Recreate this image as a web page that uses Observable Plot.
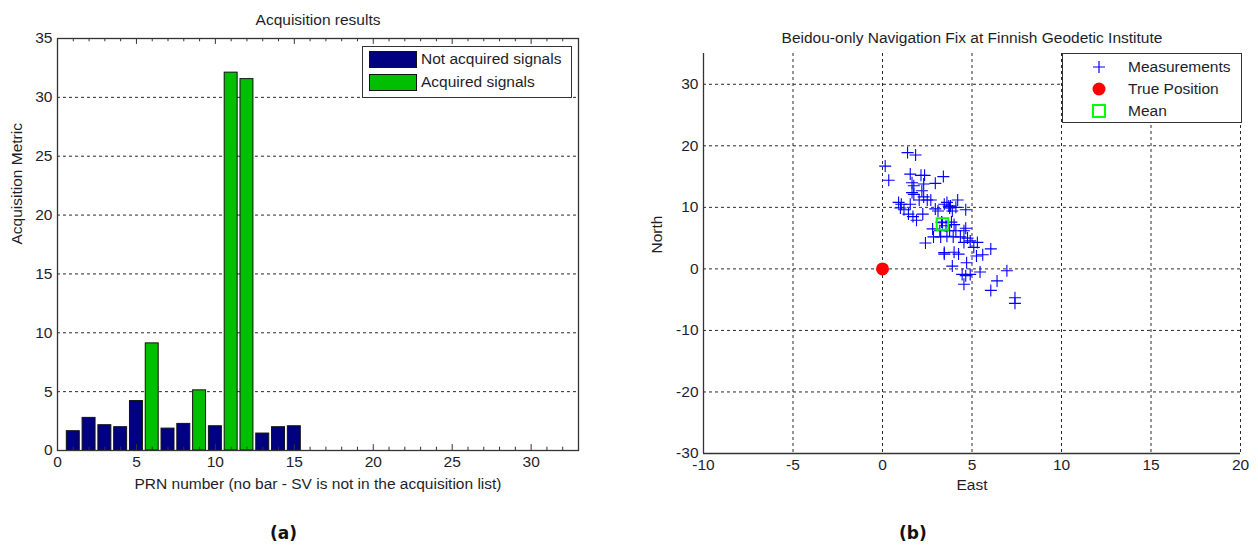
<!DOCTYPE html>
<html>
<head>
<meta charset="utf-8">
<script src="https://cdn.jsdelivr.net/npm/d3@7"></script>
<script src="https://cdn.jsdelivr.net/npm/@observablehq/plot@0.6"></script>
<style>
  html, body { margin: 0; padding: 0; background: #fff; }
  #page { position: relative; width: 1258px; height: 548px; overflow: hidden; background: #fff;
          font-family: "Liberation Sans", Arial, sans-serif; color: #1e1e2a; }
  .abs { position: absolute; }
  .legend { position: absolute; background: #fff; border: 1px solid #333; box-sizing: border-box; font-size: 15.5px; }
  .lab { position: absolute; font-family: "DejaVu Sans", Verdana, sans-serif; font-weight: bold; font-size: 17px; color: #111; }
</style>
</head>
<body>
<div id="page">
  <div id="left" class="abs" style="left:0;top:0"></div>
  <div id="right" class="abs" style="left:640px;top:0"></div>
  <div class="lab" style="left:270px;top:523px">(a)</div>
  <div class="lab" style="left:899px;top:523px">(b)</div>
</div>
<script>
// ---------- Panel (a) data ----------
const prnNumbers = [1, 2, 3, 4, 5, 6, 7, 8, 9, 10, 11, 12, 13, 14, 15];
const acquisitionMetric = [1.64, 2.77, 2.15, 1.98, 4.2, 9.1, 1.86, 2.26, 5.11, 2.06, 32.1, 31.55, 1.44, 1.98, 2.06];
const acquiredFlag = [0, 0, 0, 0, 0, 1, 0, 0, 1, 0, 1, 1, 0, 0, 0];
const legendA = ["Not acquired signals", "Acquired signals"];

// ---------- Panel (b) data ----------
const measEast = [1.4, 1.85, 0.15, 0.35, 1.55, 2.15, 2.35, 3.4, 1.65, 1.75, 2.3, 2.95, 1.65, 1.75, 2.2, 2.3,
  2.05, 2.5, 2.7, 4.2, 0.9, 1.05, 1.55, 3.6, 3.7, 1.0, 1.2, 2.95, 3.1, 3.75, 3.9, 4.65, 1.45, 1.7, 2.25,
  1.9, 3.3, 3.85, 4.0, 2.8, 4.65, 4.55, 3.2, 3.75, 4.1, 2.85, 3.25, 3.6, 3.95, 4.35, 4.75, 2.4, 5.3, 4.55,
  4.9, 3.45, 4.0, 4.25, 6.05, 5.6, 5.25, 4.7, 3.9, 4.45, 4.65, 4.9, 5.45, 4.55, 6.95, 6.4, 6.05, 7.4, 7.4,
  3.45, 3.8, 4.1, 3.35, 3.55, 5.1, 3.45];
const measNorth = [18.9, 18.5, 16.7, 14.4, 15.4, 15.2, 15.2, 15.0, 14.0, 13.5, 13.8, 13.9, 12.4, 12.1, 12.7, 11.7,
  11.2, 11.2, 11.2, 11.2, 10.8, 10.5, 10.5, 10.8, 10.2, 9.9, 9.6, 9.75, 9.4, 9.9, 9.4, 9.6, 8.9, 8.5, 8.9,
  7.9, 7.6, 7.6, 7.2, 6.5, 6.6, 6.2, 6.2, 6.2, 6.2, 5.2, 5.2, 5.3, 5.2, 5.2, 5.0, 4.2, 4.3, 4.3,
  4.55, 2.4, 2.7, 2.4, 3.25, 2.3, 2.1, 1.0, 0.45, -0.9, -1.1, -0.9, -0.5, -2.5, -0.3, -1.95, -3.5, -4.7, -5.6,
  10.5, 10.2, 10.0, 7.5, 7.0, 3.5, 2.65];
const trueEast = [0], trueNorth = [0];
const meanEast = [3.35], meanNorth = [7.3];
const legendB = ["Measurements", "True Position", "Mean"];

const navy = "#000080", green = "#00bf00";
const fontFam = '"Liberation Sans", Arial, sans-serif';
const FS = 15.5;
const fmt = d => String(d);

// ---------- Panel (a) ----------
const bars = prnNumbers.map((p, i) => ({prn: p, v: acquisitionMetric[i], acq: acquiredFlag[i]}));
const xMinor = d3.range(1, 33).filter(d => d % 5 !== 0);
const xMajor = d3.range(5, 33, 5);
const dash = {stroke: "#2a2a2a", strokeDasharray: "3,3", strokeWidth: 1};

const plotA = Plot.plot({
  width: 600, height: 500,
  marginLeft: 57, marginRight: 22, marginTop: 38, marginBottom: 50,
  style: {fontFamily: fontFam, fontSize: FS + "px", color: "#1e1e2a", background: "white", overflow: "visible"},
  x: {domain: [0, 33], ticks: d3.range(0, 31, 5), tickFormat: fmt, tickSize: 0, tickPadding: 5, label: null},
  y: {domain: [0, 35], ticks: d3.range(0, 36, 5), tickFormat: fmt, tickSize: 0, tickPadding: 5, label: null},
  marks: [
    Plot.ruleY(d3.range(5, 35, 5), dash),
    Plot.rectY(bars, {x1: d => d.prn - 0.41, x2: d => d.prn + 0.41, y: "v",
      fill: d => d.acq ? green : navy, stroke: "#111", strokeWidth: 1}),
    Plot.ruleX(xMinor, {y1: 0, y2: 0.28, stroke: "#333"}),
    Plot.ruleX(xMajor, {y1: 0, y2: 0.5, stroke: "#333"}),
    Plot.ruleX(xMinor, {y1: 35, y2: 34.72, stroke: "#333"}),
    Plot.ruleX(xMajor, {y1: 35, y2: 34.5, stroke: "#333"}),
    Plot.frame({stroke: "#333", strokeWidth: 1.3}),
    Plot.text(["Acquisition results"], {frameAnchor: "top", dy: -25, fontSize: FS, fill: "#1e1e2a"}),
    Plot.text(["PRN number (no bar - SV is not in the acquisition list)"], {frameAnchor: "bottom", dy: 38, fontSize: FS, fill: "#1e1e2a"}),
    Plot.text(["Acquisition Metric"], {frameAnchor: "left", dx: -40, rotate: -90, fontSize: FS, fill: "#1e1e2a"})
  ]
});
document.getElementById("left").appendChild(plotA);

// legend (a)
const legA = document.createElement("div");
legA.className = "legend";
legA.style.cssText = "left:362px;top:46px;width:210px;height:52px;";
legA.innerHTML = legendA.map((t, i) =>
  `<div style="position:absolute;left:6px;top:${4 + i * 23}px;width:48px;height:17px;box-sizing:border-box;border:1px solid #111;background:${i ? green : navy}"></div>` +
  `<div style="position:absolute;left:58px;top:${3 + i * 23}px;line-height:18px;white-space:nowrap">${t}</div>`).join("");
document.getElementById("page").appendChild(legA);

// ---------- Panel (b) ----------
const meas = measEast.map((e, i) => ({e, n: measNorth[i]}));
const truePos = trueEast.map((e, i) => ({e, n: trueNorth[i]}));
const meanPos = meanEast.map((e, i) => ({e, n: meanNorth[i]}));
const plus = {draw(ctx, size) { const h = Math.sqrt(size / Math.PI); ctx.moveTo(-h, 0); ctx.lineTo(h, 0); ctx.moveTo(0, -h); ctx.lineTo(0, h); }};

const plotB = Plot.plot({
  width: 618, height: 500,
  marginLeft: 63, marginRight: 18, marginTop: 53, marginBottom: 47,
  style: {fontFamily: fontFam, fontSize: FS + "px", color: "#1e1e2a", background: "white", overflow: "visible"},
  x: {domain: [-10, 20], ticks: d3.range(-10, 21, 5), tickFormat: fmt, tickSize: 0, tickPadding: 5, label: null},
  y: {domain: [-30, 35], ticks: d3.range(-30, 31, 10), tickFormat: fmt, tickSize: 0, tickPadding: 5, label: null},
  marks: [
    Plot.ruleX(d3.range(-5, 21, 5), dash),
    Plot.ruleY(d3.range(-20, 31, 10), dash),
    Plot.ruleX([-10], {stroke: "#333", strokeWidth: 1.3}),
    Plot.ruleY([-30], {stroke: "#333", strokeWidth: 1.3}),
    Plot.dot(meas, {x: "e", y: "n", symbol: plus, r: 6, stroke: "#0000ff", strokeWidth: 1.1, fill: "none"}),
    Plot.dot(truePos, {x: "e", y: "n", r: 6.5, fill: "#ff0000", stroke: "none"}),
    Plot.dot(meanPos, {x: "e", y: "n", symbol: "square", r: 6.5, stroke: "#00ff00", strokeWidth: 2, fill: "none"}),
    Plot.text(["Beidou-only Navigation Fix at Finnish Geodetic Institute"], {frameAnchor: "top", dy: -22, fontSize: FS, fill: "#1e1e2a"}),
    Plot.text(["East"], {frameAnchor: "bottom", dy: 36, fontSize: FS, fill: "#1e1e2a"}),
    Plot.text(["North"], {frameAnchor: "left", dx: -46, rotate: -90, fontSize: FS, fill: "#1e1e2a"})
  ]
});
document.getElementById("right").appendChild(plotB);

// legend (b)
const legB = document.createElement("div");
legB.className = "legend";
legB.style.cssText = "left:1062px;top:53px;width:180px;height:70px;border:1.5px solid #333;";
const sym = [
  `<svg width="16" height="16"><path d="M2,8H14M8,2V14" stroke="#0000ff" stroke-width="1.2"/></svg>`,
  `<svg width="16" height="16"><circle cx="8" cy="8" r="6.5" fill="#ff0000"/></svg>`,
  `<svg width="16" height="16"><rect x="2" y="2" width="12" height="12" fill="none" stroke="#00ff00" stroke-width="2"/></svg>`
];
legB.innerHTML = legendB.map((t, i) =>
  `<div style="position:absolute;left:28px;top:${5 + i * 22}px;width:16px;height:16px">${sym[i]}</div>` +
  `<div style="position:absolute;left:65px;top:${4 + i * 22}px;line-height:18px;white-space:nowrap">${t}</div>`).join("");
document.getElementById("page").appendChild(legB);
</script>
</body>
</html>
